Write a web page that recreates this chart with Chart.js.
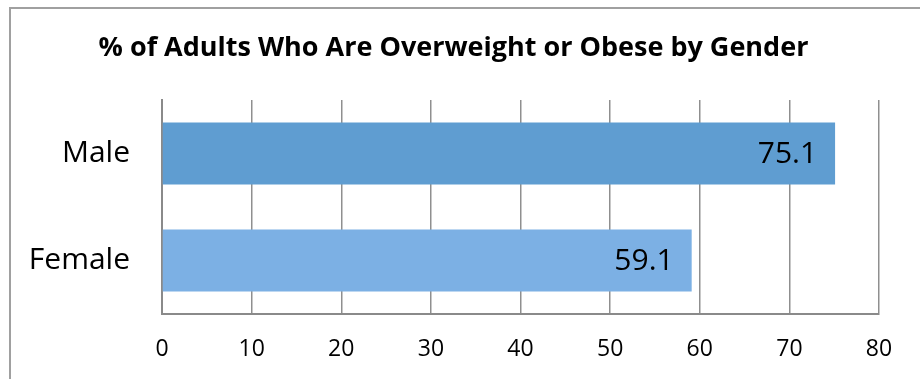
<!DOCTYPE html>
<html>
<head>
<meta charset="utf-8">
<script src="https://cdn.jsdelivr.net/npm/chart.js@4.4.0/dist/chart.umd.min.js"></script>
<style>
  html, body { margin: 0; padding: 0; background: #fff; overflow: hidden; }
  #frame { position: absolute; left: 9px; top: 7px; width: 1000px; height: 500px; border: 2px solid #a0a0a0; box-sizing: border-box; }
  #wrap { position: absolute; left: 0; top: 0; width: 920px; height: 379px; }
</style>
</head>
<body>
<div id="frame"></div>
<div id="wrap"><canvas id="chart"></canvas></div>
<script>
const categories = ['Male', 'Female'];
const values = [75.1, 59.1];
const barColors = ['#5f9dd1', '#7cb0e4'];
const xTicks = [0, 10, 20, 30, 40, 50, 60, 70, 80];
const chartTitle = '% of Adults Who Are Overweight or Obese by Gender';

const FONT = "'Open Sans', sans-serif";

// etiquetas dentro del final de cada barra
const valueLabels = {
  id: 'valueLabels',
  afterDatasetsDraw(chart) {
    const ctx = chart.ctx;
    const meta = chart.getDatasetMeta(0);
    ctx.save();
    ctx.font = '30px ' + FONT;
    ctx.fillStyle = '#000';
    ctx.textAlign = 'right';
    ctx.textBaseline = 'middle';
    meta.data.forEach((bar, i) => {
      ctx.fillText(values[i].toFixed(1), bar.x - 18, bar.y + 1);
    });
    ctx.restore();
  }
};

new Chart(document.getElementById('chart'), {
  type: 'bar',
  data: {
    labels: categories,
    datasets: [{
      data: values,
      backgroundColor: barColors,
      borderWidth: 0,
      categoryPercentage: 1,
      barPercentage: 0.58
    }]
  },
  options: {
    indexAxis: 'y',
    responsive: true,
    maintainAspectRatio: false,
    animation: false,
    layout: { padding: { left: 28, right: 41, top: 0, bottom: 0 } },
    plugins: {
      legend: { display: false },
      tooltip: { enabled: false },
      title: {
        display: true,
        text: chartTitle,
        color: '#000',
        font: { family: FONT, size: 27, weight: 'bold', lineHeight: 1.2 },
        padding: { top: 31.8, bottom: 35.8 }
      }
    },
    scales: {
      x: {
        min: 0,
        max: 80,
        afterBuildTicks: (s) => { s.ticks = xTicks.map(v => ({ value: v })); },
        afterFit: (s) => { s.height = 65; },
        ticks: { color: '#000', padding: 22, font: { family: FONT, size: 23 } },
        grid: { color: '#8f8f8f', lineWidth: 1.5, drawTicks: false },
        border: { color: '#8a8a8a', width: 2 }
      },
      y: {
        afterFit: (s) => { s.width = 134; },
        ticks: { color: '#000', padding: 32, font: { family: FONT, size: 30 } },
        grid: { display: false, drawTicks: false },
        border: { color: '#8a8a8a', width: 2 }
      }
    }
  },
  plugins: [valueLabels]
});
</script>
</body>
</html>
